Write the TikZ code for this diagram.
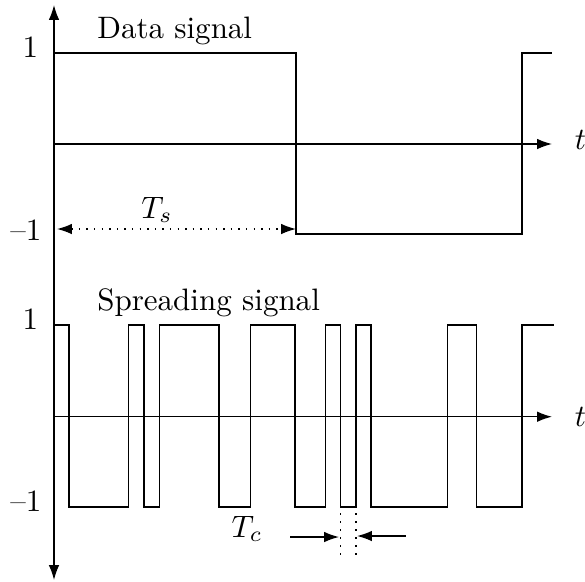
\documentclass[tikz,border=0pt]{standalone}
\usetikzlibrary{arrows.meta}
\begin{document}
\begin{tikzpicture}[x=0.3225pt,y=-0.3225pt,
  tip/.tip={Latex[length=4.8pt,width=3.4pt]},
  axis/.style={-tip, line width=0.45pt},
  biaxis/.style={tip-tip, line width=0.45pt},
  sig/.style={line width=0.45pt},
  lbl/.style={inner sep=0pt, anchor=base},
  dimline/.style={tip-tip, line width=0.45pt, dotted},
  marker/.style={line width=0.45pt, dash pattern=on 0.5pt off 2.1pt},
  pointer/.style={-tip, line width=0.45pt}]
\useasboundingbox (0,0) rectangle (585,581);
% vertical axis
\coordinate (ytop) at (54,5);
\coordinate (ybot) at (54,580);
\draw[biaxis] (ybot) -- (ytop);
% data signal axis
\coordinate (d0) at (54,144);
\coordinate (dt) at (552,144);
\draw[axis] (d0) -- (dt);
\node[lbl] (tdata) at (580.5,149) {$t$};
% spreading axis
\coordinate (s0) at (54,416.7);
\coordinate (st) at (552,416.7);
\draw[axis] (s0) -- (st);
\node[lbl] (tspread) at (580.5,426) {$t$};
% data signal
\draw[sig] (55,53) -| (296,234) -| (522,53) -- (552,53);
\node[lbl, anchor=base west] (dlabel) at (96.7,38.3) {Data signal};
\node[lbl] (d1) at (30.5,57.3) {1};
\node[lbl] (dm1) at (26,240) {--1};
% Ts
\coordinate (tsa) at (57,229);
\coordinate (tsb) at (296,229);
\draw[dimline] (tsa) -- (tsb);
\node[lbl] (ts) at (157,218.3) {$T_s$};
% spreading signal
\draw[sig] (55,325) -| (69,507) -| (128.7,325) -| (144,507) -| (159.7,325)
  -| (219,507) -| (250.3,325) -| (295,507) -| (325.7,325) -| (340.3,507)
  -| (356,325) -| (371,507) -| (447.7,325) -| (476.7,507) -| (522,325) -- (554,325);
\node[lbl, anchor=base west] (slabel) at (96.7,310.5) {Spreading signal};
\node[lbl] (s1) at (30.5,329) {1};
\node[lbl] (sm1) at (26,511) {--1};
% Tc
\coordinate (m1a) at (340.3,513);
\coordinate (m1b) at (340.3,557);
\coordinate (m2a) at (356,513);
\coordinate (m2b) at (356,557);
\draw[marker] (m1a) -- (m1b);
\draw[marker] (m2a) -- (m2b);
\coordinate (pa) at (290,537);
\coordinate (pb) at (339,537);
\coordinate (qa) at (405.7,536);
\coordinate (qb) at (357,536);
\draw[pointer] (pa) -- (pb);
\draw[pointer] (qa) -- (qb);
\node[lbl] (tc) at (247,537) {$T_c$};
\end{tikzpicture}
\end{document}
